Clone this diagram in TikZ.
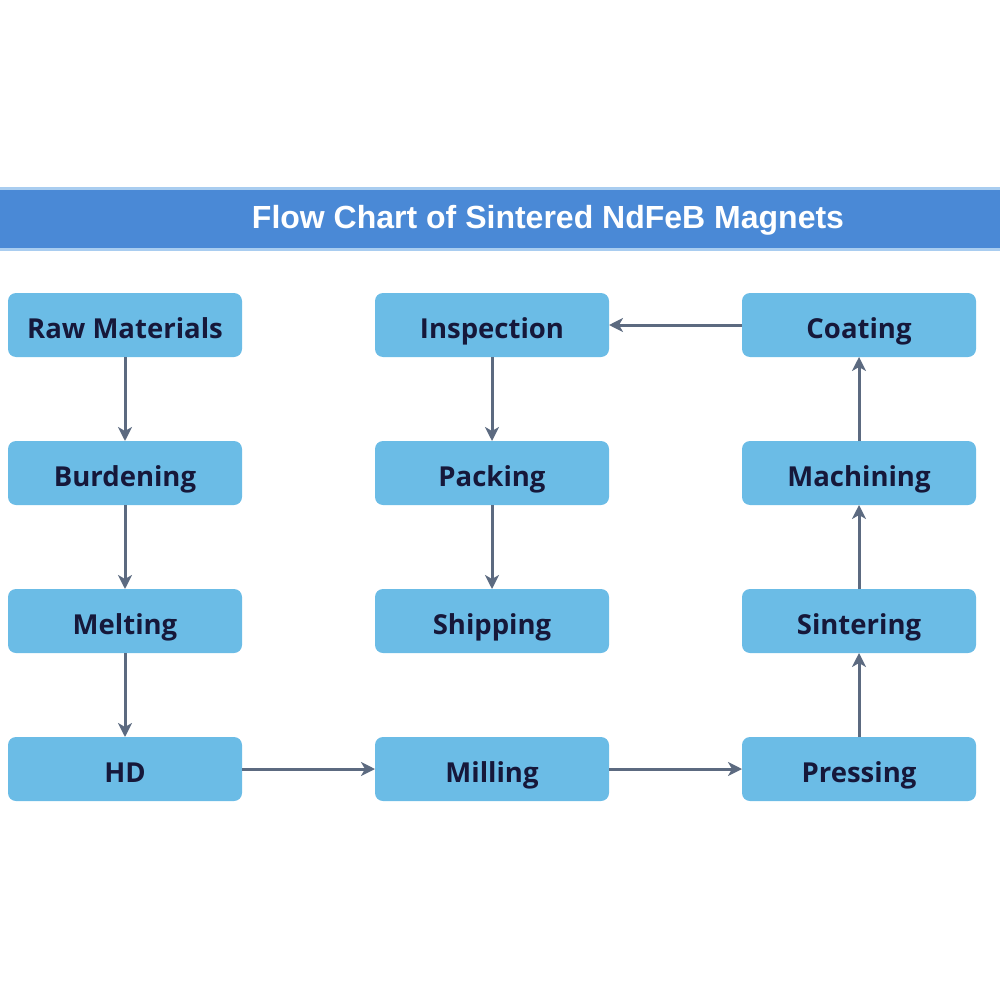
\documentclass[tikz,border=0pt]{standalone}
\usepackage{fontspec}
\setmainfont{Open Sans}
\newfontfamily\titlefont{Liberation Sans}
\usetikzlibrary{arrows.meta,positioning,backgrounds}

\definecolor{boxblue}{HTML}{6BBCE6}
\definecolor{bannerblue}{HTML}{4A89D6}
\definecolor{bannerlite}{HTML}{A9CDF0}
\definecolor{textnavy}{HTML}{16183A}
\definecolor{arrowgray}{HTML}{5C6A80}

\begin{document}
\begin{tikzpicture}[x=1pt,y=-1pt,
          block/.style={rectangle,rounded corners=8pt,fill=boxblue,draw=none,
                        minimum width=234pt,minimum height=64pt,outer sep=0pt,
                        text height=26pt,text depth=0pt,
                        text=textnavy,font=\fontsize{27.5}{32}\selectfont\bfseries},
          flow/.style={draw=arrowgray,line width=3pt,-{Stealth[length=14pt,width=14pt,inset=4pt]}},
          node distance=84pt and 133pt]

                \useasboundingbox (0,0) rectangle (1000,1000);

                % banner
                \fill[bannerlite] (0,187) rectangle (1000,251);
                \fill[bannerblue] (0,190) rectangle (1000,248);
                \node (title) at (548,220) [text=white,font=\titlefont\fontsize{32}{36}\selectfont\bfseries]
                      {Flow Chart of Sintered NdFeB Magnets};

                % left column
                \node[block] (raw) at (125,325) {Raw Materials};
                \node[block] (burden) [below = of raw] {Burdening};
                \node[block] (melt) [below = of burden] {Melting};
                \node[block] (hd) [below = of melt] {HD};

                % middle column
                \node[block] (mill) [right = of hd] {Milling};
                \node[block] (inspect) [right = of raw] {Inspection};
                \node[block] (pack) [below = of inspect] {Packing};
                \node[block] (ship) [below = of pack] {Shipping};

                % right column
                \node[block] (press) [right = of mill] {Pressing};
                \node[block] (sinter) [above = of press] {Sintering};
                \node[block] (machine) [above = of sinter] {Machining};
                \node[block] (coat) [above = of machine] {Coating};

                \draw[flow] (raw) -- (burden);
                \draw[flow] (burden) -- (melt);
                \draw[flow] (melt) -- (hd);
                \draw[flow] (hd) -- (mill);
                \draw[flow] (mill) -- (press);
                \draw[flow] (press) -- (sinter);
                \draw[flow] (sinter) -- (machine);
                \draw[flow] (machine) -- (coat);
                \draw[flow] (coat) -- (inspect);
                \draw[flow] (inspect) -- (pack);
                \draw[flow] (pack) -- (ship);
              \end{tikzpicture}
\end{document}
